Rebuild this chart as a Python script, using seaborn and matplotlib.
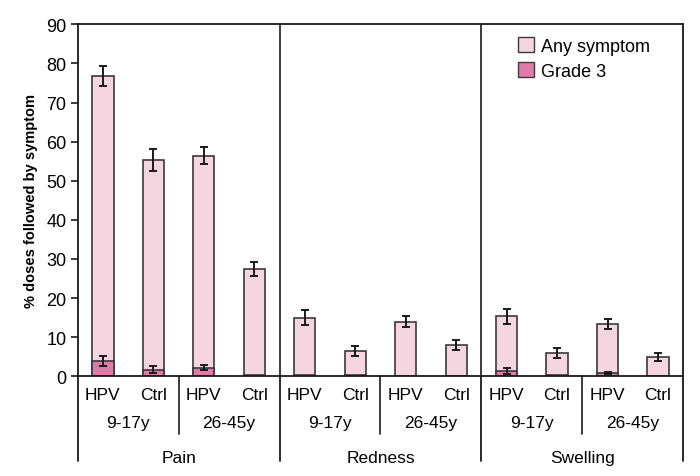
import numpy as np
import pandas as pd
import matplotlib
matplotlib.use('Agg')
import matplotlib.pyplot as plt
import seaborn as sns
from matplotlib.patches import Patch
from matplotlib.lines import Line2D

# data
symptoms = ['Pain', 'Redness', 'Swelling']
ages = ['9-17y', '26-45y']
arms = ['HPV', 'Ctrl']

any_pct = [76.8, 55.2, 56.4, 27.5,
           15.0, 6.5, 14.0, 8.0,
           15.3, 6.0, 13.3, 5.0]
any_err = [2.5, 2.8, 2.2, 1.8,
           2.0, 1.3, 1.5, 1.2,
           2.0, 1.3, 1.3, 1.0]
grade3_pct = [4.0, 1.7, 2.2, 0.3,
              0.3, 0.3, 0.2, 0.2,
              1.3, 0.3, 0.8, 0.2]
grade3_err = [1.3, 0.9, 0.7, 0.0,
              0.0, 0.0, 0.0, 0.0,
              0.8, 0.0, 0.3, 0.0]

rows = []
for i in range(12):
    rows.append({'slot': i,
                 'symptom': symptoms[i // 4],
                 'age': ages[(i // 2) % 2],
                 'arm': arms[i % 2],
                 'any': any_pct[i], 'any_err': any_err[i],
                 'g3': grade3_pct[i], 'g3_err': grade3_err[i]})
df = pd.DataFrame(rows)

sns.set_theme(style='white', rc={'text.color': 'black', 'axes.labelcolor': 'black',
                                 'ytick.color': 'black', 'xtick.color': 'black'})
plt.rcParams['font.family'] = ['Liberation Sans', 'DejaVu Sans']

c_any = '#F5D5DF'
c_g3 = '#E07AA8'
c_edge = '#3a3a3a'
c_line = '#1a1a1a'

fig = plt.figure(figsize=(7, 4.77), dpi=100)
ax = fig.add_axes([0.111, 0.209, 0.865, 0.738])

sns.barplot(data=df, x='slot', y='any', color=c_any, width=0.42,
            edgecolor=c_edge, linewidth=1.2, saturation=1, errorbar=None, ax=ax)
sns.barplot(data=df, x='slot', y='g3', color=c_g3, width=0.42,
            edgecolor=c_edge, linewidth=1.2, saturation=1, errorbar=None, ax=ax)

ax.errorbar(df['slot'], df['any'], yerr=df['any_err'], fmt='none',
            ecolor=c_line, elinewidth=1.4, capsize=3.2, capthick=1.4, zorder=5)
m = df['g3_err'] > 0
ax.errorbar(df.loc[m, 'slot'], df.loc[m, 'g3'], yerr=df.loc[m, 'g3_err'], fmt='none',
            ecolor=c_line, elinewidth=1.4, capsize=3.2, capthick=1.4, zorder=5)

ax.set_xlim(-0.5, 11.5)
ax.set_ylim(0, 90)
ax.set_yticks(range(0, 91, 10))
ax.tick_params(axis='y', labelsize=13, length=5, width=1.2, color=c_line, pad=3,
               left=True, direction='out')
ax.set_xticks([])
ax.set_xlabel('')
ax.set_ylabel('% doses followed by symptom', fontsize=10.5, fontweight='bold', labelpad=6)
for s in ax.spines.values():
    s.set_color(c_line)
    s.set_linewidth(1.3)

# panel separators through the plot
for xs in [3.5, 7.5]:
    ax.axvline(xs, color=c_line, lw=1.2)

# hierarchical category labels below the axis
tr = ax.get_xaxis_transform()
for i in range(12):
    ax.text(i, -0.052, arms[i % 2], transform=tr, ha='center', va='center', fontsize=12.5)
for k in range(6):
    ax.text(2 * k + 0.5, -0.132, ages[k % 2], transform=tr, ha='center', va='center', fontsize=12.5)
for k in range(3):
    ax.text(4 * k + 1.5, -0.23, symptoms[k], transform=tr, ha='center', va='center', fontsize=12.5)

for xs in [1.5, 5.5, 9.5]:
    ax.add_line(Line2D([xs, xs], [0, -0.165], transform=tr, color=c_line, lw=1.2, clip_on=False))
for xs in [-0.5, 3.5, 7.5, 11.5]:
    ax.add_line(Line2D([xs, xs], [0, -0.24], transform=tr, color=c_line, lw=1.3, clip_on=False))

handles = [Patch(facecolor=c_any, edgecolor=c_edge, label='Any symptom'),
           Patch(facecolor=c_g3, edgecolor=c_edge, label='Grade 3')]
ax.legend(handles=handles, loc='upper left', bbox_to_anchor=(0.7, 1.01), frameon=False,
          fontsize=13, handlelength=0.9, handleheight=0.9, handletextpad=0.4, labelspacing=0.4)

fig.savefig('out.png', dpi=100)
